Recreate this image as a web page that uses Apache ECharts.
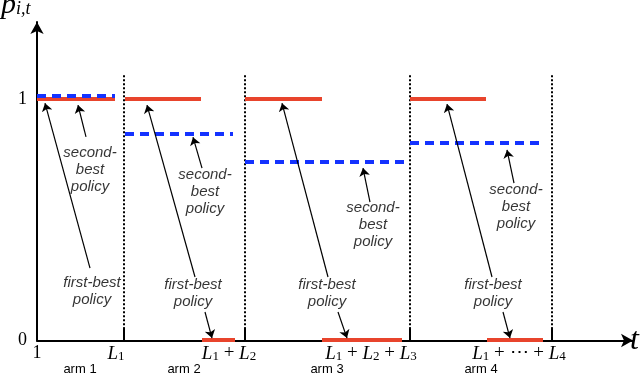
<!DOCTYPE html>
<html>
<head>
<meta charset="utf-8">
<script src="https://cdn.jsdelivr.net/npm/echarts@6/dist/echarts.min.js"></script>
<style>
  html, body { margin: 0; padding: 0; background: #fff; }
  #chart { width: 640px; height: 375px; }
</style>
</head>
<body>
<div id="chart"></div>
<script>
// t positions (schematic units) of the arm boundaries L1, L1+L2, L1+L2+L3, L1+...+L4
const armEnds = [87, 208, 373, 515];
const armCenters = [43, 147, 290, 444];
const armNames = ["arm 1", "arm 2", "arm 3", "arm 4"];
// tick label texts and where their centres sit (they hang slightly left of the ticks)
const tickTexts = [
  "{n|1}",
  "{L|L}{s|1}",
  "{L|L}{s|1}{o| + }{L|L}{s|2}",
  "{L|L}{s|1}{o| + }{L|L}{s|2}{o| + }{L|L}{s|3}",
  "{L|L}{s|1}{o| + ⋯ + }{L|L}{s|4}",
];
const tickLabelAt = [0, 79, 192, 334, 482];

// first-best policy: p = 1 segments and p = 0 segments  [tStart, tEnd]
const firstBestHigh = [[0, 78], [88, 164], [208, 285], [373, 449]];
const firstBestLow = [[165, 198], [285, 365], [450, 506]];
// second-best policy: [tStart, tEnd, p]
const secondBest = [[0, 78, 1.012], [88, 196, 0.858], [208, 368, 0.74], [373, 508, 0.819]];

// annotation arrows: [tFrom, pFrom, tTo, pTo]
const arrows = [
  [53, 0.3, 8, 0.983],
  [49, 0.843, 41, 0.975],
  [158, 0.263, 110, 0.975],
  [168, 0.118, 175, 0.01],
  [165, 0.714, 156, 0.842],
  [291, 0.263, 245, 0.983],
  [301, 0.118, 310, 0.01],
  [333, 0.573, 326, 0.714],
  [455, 0.263, 410, 0.979],
  [466, 0.118, 473, 0.01],
  [477, 0.652, 470, 0.789],
];
// annotation texts: [t, p, text]
const notes = [
  [55, 0.203, "first-best\npolicy"],
  [53, 0.706, "second-\nbest\npolicy"],
  [156, 0.197, "first-best\npolicy"],
  [168, 0.615, "second-\nbest\npolicy"],
  [290, 0.197, "first-best\npolicy"],
  [336, 0.478, "second-\nbest\npolicy"],
  [456, 0.197, "first-best\npolicy"],
  [479, 0.553, "second-\nbest\npolicy"],
];

const RED = "#e8442c";
const BLUE = "#1432ff";
const serif = "Liberation Serif";

const chart = echarts.init(document.getElementById("chart"));
chart.setOption({
  animation: false,
  grid: { left: 37, right: 7, top: 22, bottom: 34.5, outerBoundsMode: "none", containLabel: false },
  xAxis: [
    {
      type: "value",
      min: 0,
      max: 596,
      splitLine: { show: false },
      axisLine: {
        show: true,
        onZero: false,
        symbol: ["none", "arrow"],
        symbolSize: [10, 12],
        lineStyle: { color: "#000", width: 2 },
      },
      axisTick: {
        show: true,
        inside: true,
        length: 13,
        customValues: armEnds,
        lineStyle: { color: "#000", width: 2 },
      },
      axisLabel: {
        customValues: tickLabelAt,
        margin: 3,
        color: "#000",
        formatter: (v) => tickTexts[tickLabelAt.indexOf(v)] || "",
        rich: {
          n: { fontFamily: serif, fontSize: 18, lineHeight: 20 },
          L: { fontFamily: serif, fontStyle: "italic", fontSize: 19, lineHeight: 20 },
          s: { fontFamily: serif, fontSize: 13, lineHeight: 9, verticalAlign: "bottom" },
          o: { fontFamily: serif, fontSize: 19, lineHeight: 20 },
        },
      },
      name: "t",
      nameLocation: "end",
      nameGap: -3,
      nameTextStyle: {
        fontFamily: serif,
        fontStyle: "italic",
        fontSize: 32,
        color: "#000",
        padding: [30, 0, 0, 0],
      },
    },
    {
      type: "value",
      min: 0,
      max: 596,
      position: "bottom",
      offset: 18,
      splitLine: { show: false },
      axisLine: { show: false },
      axisTick: { show: false },
      axisLabel: {
        customValues: armCenters,
        margin: 4,
        color: "#000",
        fontFamily: "Liberation Sans",
        fontSize: 13,
        formatter: (v) => armNames[armCenters.indexOf(v)] || "",
      },
    },
  ],
  yAxis: {
    type: "value",
    min: 0,
    max: 1.319,
    splitLine: { show: false },
    axisLine: {
      show: true,
      onZero: false,
      symbol: ["none", "arrow"],
      symbolSize: [10, 12],
      lineStyle: { color: "#000", width: 2 },
    },
    axisTick: { show: false },
    axisLabel: {
      customValues: [0, 1],
      margin: 10,
      color: "#000",
      fontFamily: serif,
      fontSize: 18,
    },
    name: "{p|p}{s|i,t}",
    nameLocation: "end",
    nameGap: 4,
    nameTextStyle: {
      align: "left",
      padding: [0, 0, 0, -36],
      rich: {
        p: { fontFamily: serif, fontStyle: "italic", fontSize: 30, lineHeight: 26, color: "#000" },
        s: { fontFamily: serif, fontStyle: "italic", fontSize: 18, lineHeight: 14, verticalAlign: "bottom", color: "#000" },
      },
    },
  },
  series: [
    {
      type: "lines",
      name: "separators",
      coordinateSystem: "cartesian2d",
      symbol: "none",
      lineStyle: { color: "#000", width: 2, type: [2, 2], opacity: 1 },
      data: armEnds.map((t) => ({ coords: [[t, 0.03], [t, 1.1]] })),
      z: 1,
    },
    {
      type: "lines",
      name: "first-best",
      coordinateSystem: "cartesian2d",
      symbol: "none",
      lineStyle: { color: RED, width: 4, opacity: 1 },
      data: firstBestHigh
        .map((s) => ({ coords: [[s[0], 1], [s[1], 1]] }))
        .concat(firstBestLow.map((s) => ({ coords: [[s[0], 0.004], [s[1], 0.004]] }))),
      z: 2,
    },
    {
      type: "lines",
      name: "second-best",
      coordinateSystem: "cartesian2d",
      symbol: "none",
      lineStyle: { color: BLUE, width: 4, type: [9, 6], opacity: 1 },
      data: secondBest.map((s) => ({ coords: [[s[0], s[2]], [s[1], s[2]]] })),
      z: 3,
    },
    {
      type: "lines",
      name: "arrows",
      coordinateSystem: "cartesian2d",
      symbol: ["none", "arrow"],
      symbolSize: 8,
      lineStyle: { color: "#000", width: 1.2, opacity: 1 },
      data: arrows.map((a) => ({ coords: [[a[0], a[1]], [a[2], a[3]]] })),
      z: 4,
    },
    {
      type: "scatter",
      name: "notes",
      symbolSize: 0,
      silent: true,
      data: notes.map((n) => ({ value: [n[0], n[1]], name: n[2] })),
      label: {
        show: true,
        position: "inside",
        formatter: (p) => p.name,
        fontFamily: "Liberation Sans",
        fontStyle: "italic",
        fontSize: 15,
        lineHeight: 17,
        align: "center",
        color: "#000",
      },
      z: 5,
    },
  ],
});
</script>
</body>
</html>
